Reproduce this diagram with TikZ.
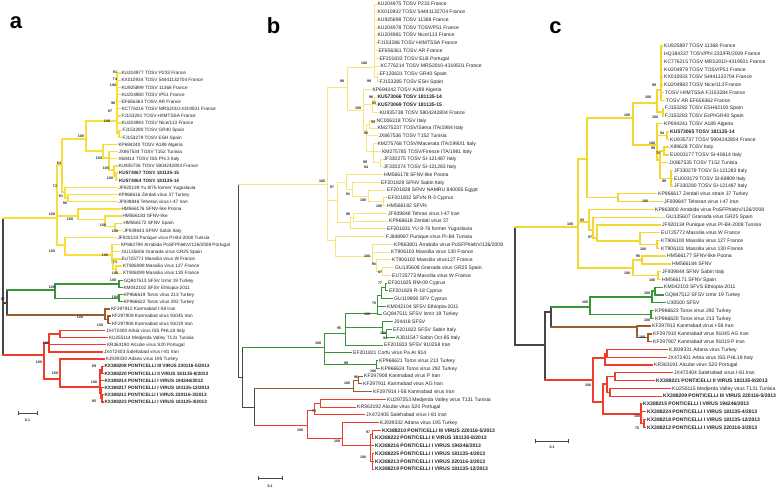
\documentclass[tikz,border=0pt]{standalone}
\usepackage{fontspec}
\newfontfamily\lsans{Liberation Sans}
\newcounter{lfc}\newcounter{bsc}
\definecolor{txt}{RGB}{35,35,35}
\definecolor{kcol}{RGB}{70,70,70}
\definecolor{yca}{RGB}{246,222,60}
\definecolor{ycb}{RGB}{248,228,120}
\definecolor{ycc}{RGB}{244,216,50}
\definecolor{gcol}{RGB}{55,150,55}
\definecolor{bcol}{RGB}{150,95,45}
\definecolor{rcol}{RGB}{238,60,45}
\newcommand{\tvert}[4]{\draw[#1] (#2,#3) -- (#2,#4);}
\newcommand{\thor}[4]{\draw[#1] (#2,#4) -- (#3,#4);}
\newcommand{\tleaf}[5]{\draw[#1] (#2,#4) -- (#3,#4);\stepcounter{lfc}\node[lbl] (lf\arabic{lfc}) at ({#3+1.3},{#4+1.75}) {#5};}
\newcommand{\tboot}[3]{\stepcounter{bsc}\node[bst] (bs\arabic{bsc}) at (#1,#2) {#3};}
\begin{document}
\begin{tikzpicture}[x=1pt,y=-1pt,line cap=rect,
  ka/.style={draw=kcol,line width=1.2pt}, ya/.style={draw=yca,line width=1.3pt},
  ga/.style={draw=gcol,line width=1.3pt}, ba/.style={draw=bcol,line width=1.3pt},
  ra/.style={draw=rcol,line width=1.3pt},
  kb/.style={draw=kcol,line width=1pt}, yb/.style={draw=ycb,line width=1pt},
  gb/.style={draw=gcol,line width=1pt}, bb/.style={draw=bcol,line width=1pt},
  rb/.style={draw=rcol,line width=1pt},
  kc/.style={draw=kcol,line width=1.2pt}, yc/.style={draw=ycc,line width=1.3pt},
  gc/.style={draw=gcol,line width=1.3pt}, bc/.style={draw=bcol,line width=1.3pt},
  rc/.style={draw=rcol,line width=1.3pt},
  bst/.style={inner sep=0,text=txt,font=\lsans\bfseries\fontsize{3.6}{4}\selectfont},
  plab/.style={inner sep=0,text=black,font=\lsans\bfseries\fontsize{22}{24}\selectfont},
  lbl/.style={anchor=base west,inner sep=0,text=txt,font=\lsans\fontsize{5.05}{5.6}\selectfont}]
\useasboundingbox (0,0) rectangle (778,491);
\fill[white] (0,0) rectangle (778,491);
% ================= PANEL A =================
\node[plab] (pa) at (16,23) {a};
\begin{scope}[lbl/.style={anchor=base west,inner sep=0,text=txt,font=\lsans\fontsize{4.7}{5.2}\selectfont}]
\tvert{ka}{3}{218}{355}
\thor{ya}{3}{57}{218}
\tvert{ya}{57}{165}{245}
\thor{ya}{57}{62}{165}
\tvert{ya}{62}{139}{192}
\thor{ya}{62}{86}{139}
\tvert{ya}{86}{121}{151}
\thor{ya}{86}{117}{121}
\tvert{ya}{117}{73}{133.8}
\tleaf{ya}{117}{120}{73}{KU204977 TOSV P233 France}
\tleaf{ya}{117}{120}{80.15}{KX010934 TOSV 54441132704 France}
\tleaf{ya}{117}{120}{87.3}{KU925899 TOSV 11368 France}
\tleaf{ya}{117}{120}{94.45}{KU204980 TOSV IP51 France}
\tleaf{ya}{117}{120}{101.6}{EF656363 TOSV AR France}
\tleaf{ya}{117}{120}{108.75}{KC776216 TOSV MRS2010-4319501 France}
\tleaf{ya}{117}{120}{115.9}{FJ153281 TOSV H/IMTSSA France}
\tleaf{ya}{117}{120}{123.05}{KU204983 TOSV Nice/113 France}
\thor{ya}{117}{119}{133.8}
\tvert{ya}{119}{130.2}{137.35}
\tleaf{ya}{119}{121}{130.2}{FJ153280 TOSV GR40 Spain}
\tleaf{ya}{119}{121}{137.35}{FJ153279 TOSV ESH Spain}
\thor{ya}{86}{103}{151}
\tvert{ya}{103}{144.5}{158}
\tleaf{ya}{103}{117}{144.5}{KP694240 TOSV A189 Algeria}
\thor{ya}{103}{109}{158}
\tvert{ya}{109}{151.65}{170}
\tleaf{ya}{109}{117}{151.65}{JX867534 TOSV T152 Tunisia}
\tleaf{ya}{109}{117}{158.8}{X68414 TOSV ISS Phl.3 Italy}
\thor{ya}{109}{114}{170}
\tvert{ya}{114}{165.95}{176.7}
\tleaf{ya}{114}{117}{165.95}{KU935736 TOSV 5904242804 France}
\thor{ya}{114}{116}{176.7}
\tvert{ya}{116}{173.1}{180.25}
\tleaf{ya}{116}{117.5}{173.1}{\textbf{KU573067 TOSV 181135-15}}
\tleaf{ya}{116}{117.5}{180.25}{\textbf{KU573064 TOSV 181135-14}}
\thor{ya}{62}{65}{192}
\tvert{ya}{65}{187.4}{198}
\tleaf{ya}{65}{117}{187.4}{JF920139 Yu 8/76 former Yugoslavia}
\thor{ya}{65}{68}{198}
\tvert{ya}{68}{194.55}{201.7}
\tleaf{ya}{68}{117}{194.55}{KP966616 Zerdali virus 37 Turkey}
\tleaf{ya}{68}{117}{201.7}{JF939846 Teheran virus I-47 Iran}
\thor{ya}{57}{78}{216}
\tvert{ya}{78}{208.85}{219.5}
\tleaf{ya}{78}{120}{208.85}{HM566176 SFNV-like Poona}
\thor{ya}{78}{105}{219.5}
\tvert{ya}{105}{216}{226.7}
\tleaf{ya}{105}{121}{216}{HM566183 SFNV-like}
\thor{ya}{105}{115}{226.7}
\tvert{ya}{115}{223.15}{230.3}
\tleaf{ya}{115}{122}{223.15}{HM566172 SFNV Spain}
\tleaf{ya}{115}{122}{230.3}{JF939843 SFNV Sabin Italy}
\thor{ya}{57}{65}{245}
\tvert{ya}{65}{237.45}{255}
\tleaf{ya}{65}{116}{237.45}{JF920133 Punique virus PI-B4-2008 Tunisia}
\thor{ya}{65}{112}{255}
\tvert{ya}{112}{244.6}{262.5}
\tleaf{ya}{112}{119.5}{244.6}{KP863799 Arrabida PoSFPhlebV/126/2008 Portugal}
\tleaf{ya}{112}{120}{251.75}{GU135606 Granada virus GR25 Spain}
\thor{ya}{112}{113}{262.5}
\tvert{ya}{113}{258.9}{269.6}
\tleaf{ya}{113}{120}{258.9}{EU725771 Massilia virus W France}
\thor{ya}{113}{116}{269.6}
\tvert{ya}{116}{266.05}{273.2}
\tleaf{ya}{116}{121.5}{266.05}{KT906098 Massilia virus 127 France}
\tleaf{ya}{116}{121.5}{273.2}{KT906099 Massilia virus 130 France}
% black / green / brown
\thor{ka}{3}{7}{303}
\tvert{ka}{7}{290}{315}
\thor{ga}{7}{55}{290}
\tvert{ga}{55}{284}{298.2}
\thor{ga}{55}{119}{284}
\tvert{ga}{119}{280.35}{287.5}
\tleaf{ga}{119}{122}{280.35}{GQ847513 SFSV Izmir 19 Turkey}
\tleaf{ga}{119}{122}{287.5}{KM042102 SFSV Ethiopia-2011}
\thor{ga}{55}{119}{298.2}
\tvert{ga}{119}{294.65}{301.8}
\tleaf{ga}{119}{122}{294.65}{KP966619 Toros virus 213 Turkey}
\tleaf{ga}{119}{122}{301.8}{KP966622 Toros virus 292 Turkey}
\thor{ba}{7}{105}{315}
\tvert{ba}{105}{308.95}{319.7}
\tleaf{ba}{105}{109.5}{308.95}{KF297912 Kanmabad I-58 Iran}
\thor{ba}{105}{108}{319.7}
\tvert{ba}{108}{316.1}{323.25}
\tleaf{ba}{108}{110.5}{316.1}{KF297909 Kanmabad virus 91045 Iran}
\tleaf{ba}{108}{110.5}{323.25}{KF297906 Kanmabad virus 91019 Iran}
% red
\thor{ra}{3}{44}{355}
\tvert{ra}{44}{343}{379}
\thor{ra}{44}{49}{343}
\tvert{ra}{49}{334}{351.85}
\thor{ra}{49}{60}{334}
\tvert{ra}{60}{330.4}{337.55}
\tleaf{ra}{60}{104.5}{330.4}{JX472400 Arbia virus ISS PHL18 Italy}
\tleaf{ra}{60}{107.5}{337.55}{KU255114 Medjerda Valley T131 Tunisia}
\tleaf{ra}{49}{105.5}{344.7}{KR363190 Alcube virus S20 Portugal}
\tleaf{ra}{49}{102.5}{351.85}{JX472403 Salehabad virus I-81 Iran}
\thor{ra}{44}{60}{379}
\tvert{ra}{60}{359}{387}
\tleaf{ra}{60}{104.5}{359}{KJ939330 Adana virus 195 Turkey}
\thor{ra}{60}{100}{387}
\tvert{ra}{100}{369.7}{393}
\thor{ra}{100}{102}{369.7}
\tvert{ra}{102}{366.15}{373.3}
\tleaf{ra}{102}{103}{366.15}{\textbf{KX388208 PONTICELLI III VIRUS 220116-5/2013}}
\tleaf{ra}{102}{103}{373.3}{\textbf{KX388220 PONTICELLI II VIRUS 181135-8/2013}}
\tleaf{ra}{100}{103}{380.45}{\textbf{KX388214 PONTICELLI I VIRUS 194246/2013}}
\thor{ra}{100}{101}{393}
\tvert{ra}{101}{387.6}{398.3}
\tleaf{ra}{101}{103}{387.6}{\textbf{KX388217 PONTICELLI I VIRUS 181135-12/2013}}
\thor{ra}{101}{102}{398.3}
\tvert{ra}{102}{394.75}{401.9}
\tleaf{ra}{102}{103}{394.75}{\textbf{KX388211 PONTICELLI I VIRUS 220116-3/2013}}
\tleaf{ra}{102}{103}{401.9}{\textbf{KX388223 PONTICELLI I VIRUS 181135-4/2013}}
\end{scope}
\tboot{115}{72}{91}\tboot{115}{79}{74}\tboot{113}{85}{100}\tboot{113}{103}{98}
\tboot{110}{111}{97}\tboot{107}{121}{100}\tboot{81}{136}{100}\tboot{59}{163}{84}
\tboot{99}{158}{100}\tboot{106}{168}{100}\tboot{110}{178}{100}\tboot{55}{186}{72}
\tboot{61}{196}{91}\tboot{65}{203}{96}\tboot{52}{214}{100}\tboot{70}{219}{100}
\tboot{103}{225}{100}\tboot{115}{231}{100}\tboot{52}{251}{100}\tboot{105}{255}{100}
\tboot{115}{262}{73}\tboot{115}{273}{100}\tboot{113}{280}{100}\tboot{52}{287}{100}
\tboot{115}{297}{100}\tboot{3}{299}{87}\tboot{80}{317}{100}\tboot{100}{325}{100}
\tboot{46}{343}{100}\tboot{39}{362}{100}\tboot{55}{373}{100}\tboot{94}{366}{99}
\tboot{94}{382}{100}\tboot{94}{401}{95}
\draw[kcol,line width=0.8pt,line cap=butt] (18,413) -- (37,413) (18,411) -- (18,415) (37,411) -- (37,415);
\node[bst] (sca) at (27.5,420) {0.1};
% ================= PANEL B =================
\node[plab] (pb) at (273.5,25.5) {b};
\tvert{kb}{238.7}{184}{377}
\thor{yb}{238.7}{327}{184}
\tvert{yb}{327}{87}{240}
\thor{yb}{327}{347}{87}
\tvert{yb}{347}{67}{110}
\thor{yb}{347}{374.5}{67}
\tvert{yb}{374.5}{4}{77.6}
\tleaf{yb}{374.5}{376}{4}{KU204975 TOSV P233 France}
\tleaf{yb}{374.5}{376}{11.75}{KX010932 TOSV 54441132704 France}
\tleaf{yb}{374.5}{376}{19.5}{KU925898 TOSV 11368 France}
\tleaf{yb}{374.5}{376}{27.25}{KU204978 TOSV TOSV/P51 France}
\tleaf{yb}{374.5}{376}{35}{KU204981 TOSV Nice/113 France}
\tleaf{yb}{374.5}{376}{42.75}{FJ153286 TOSV H/IMTSSA France}
\tleaf{yb}{374.5}{377}{50.5}{EF656361 TOSV AR France}
\tleaf{yb}{374.5}{378}{58.25}{EF201833 TOSV ELB Portugal}
\tleaf{yb}{374.5}{379}{66}{KC776214 TOSV MRS2010-4319501 France}
\thor{yb}{374.5}{377}{77.6}
\tvert{yb}{377}{73.75}{81.5}
\tleaf{yb}{377}{378}{73.75}{EF120631 TOSV GR40 Spain}
\tleaf{yb}{377}{378}{81.5}{FJ153285 TOSV ESH Spain}
\thor{yb}{347}{363}{110}
\tvert{yb}{363}{89.25}{130}
\tleaf{yb}{363}{371}{89.25}{KP694242 TOSV A189 Algeria}
\thor{yb}{363}{372}{104}
\tvert{yb}{372}{100.9}{112.5}
\thor{yb}{372}{374}{100.9}
\tvert{yb}{374}{97}{104.75}
\tleaf{yb}{374}{376}{97}{\textbf{KU573066 TOSV 181135-14}}
\tleaf{yb}{374}{376}{104.75}{\textbf{KU573069 TOSV 181135-15}}
\tleaf{yb}{372}{378}{112.5}{KU935738 TOSV 5904242804 France}
\thor{yb}{363}{366}{130}
\tvert{yb}{366}{124}{151.5}
\thor{yb}{366}{369}{124}
\tvert{yb}{369}{120.25}{128}
\tleaf{yb}{369}{375}{120.25}{NC006318 TOSV Italy}
\tleaf{yb}{369}{376}{128}{KM275237 TOSV/Siena ITA/1984 Italy}
\tleaf{yb}{366}{377}{135.75}{JX867536 TOSV T152 Tunisia}
\thor{yb}{366}{373}{151.5}
\tvert{yb}{373}{143.5}{162.9}
\tleaf{yb}{373}{376}{143.5}{KM275768 TOSV/Macerata ITA/1990/1 Italy}
\tleaf{yb}{373}{380.5}{151.25}{KM275785 TOSV/Firenze ITA/1981 Italy}
\thor{yb}{373}{380}{162.9}
\tvert{yb}{380}{159}{166.75}
\tleaf{yb}{380}{382}{159}{JF330275 TOSV SI-121487 Italy}
\tleaf{yb}{380}{382}{166.75}{JF330274 TOSV SI-121283 Italy}
\thor{yb}{327}{337}{200}
\tvert{yb}{337}{182}{222}
\thor{yb}{337}{346}{182}
\tvert{yb}{346}{174.5}{189}
\tleaf{yb}{346}{382.5}{174.5}{HM566178 SFNV-like Poona}
\thor{yb}{346}{352}{189}
\tvert{yb}{352}{182.25}{196}
\tleaf{yb}{352}{379.7}{182.25}{EF201829 SFNV Sabin Italy}
\thor{yb}{352}{368}{196}
\tvert{yb}{368}{190}{201.6}
\tleaf{yb}{368}{385.7}{190}{EF201828 SFNV NAMRU 840055 Egypt}
\thor{yb}{368}{383}{201.6}
\tvert{yb}{383}{197.75}{205.5}
\tleaf{yb}{383}{386.7}{197.75}{EF201832 SFVN R-3 Cyprus}
\tleaf{yb}{383}{385.7}{205.5}{HM566182 SFVN}
\thor{yb}{337}{350}{222}
\tvert{yb}{350}{217}{228.75}
\thor{yb}{350}{353}{217}
\tvert{yb}{353}{213.25}{221}
\tleaf{yb}{353}{386.7}{213.25}{JF939848 Tehran virus I-47 Iran}
\tleaf{yb}{353}{387.7}{221}{KP966618 Zerdali virus 37}
\tleaf{yb}{350}{385.7}{228.75}{EF201831 YU 8-76 former Yugoslavia}
\thor{yb}{327}{335}{240}
\tvert{yb}{335}{236.5}{256}
\tleaf{yb}{335}{384.7}{236.5}{FJ848987 Punique virus PI-B4 Tunisia}
\thor{yb}{335}{372}{256}
\tvert{yb}{372}{244.25}{263.6}
\tleaf{yb}{372}{392.7}{244.25}{KP863801 Arrabida virus PoSFPhlebV/126/2008}
\tleaf{yb}{372}{389.7}{252}{KT906103 Massilia virus 130 France}
\thor{yb}{372}{376}{263.6}
\tvert{yb}{376}{259.75}{271.4}
\tleaf{yb}{376}{390.7}{259.75}{KT906102 Massilia virus127 France}
\thor{yb}{376}{382}{271.4}
\tvert{yb}{382}{267.5}{275.25}
\tleaf{yb}{382}{393.7}{267.5}{GU135608 Granada virus GR25 Spain}
\tleaf{yb}{382}{390.7}{275.25}{EU725773 Massilia virus W France}
% green b
\thor{kb}{238.7}{242}{377}
\tvert{kb}{242}{347}{407}
\thor{gb}{242}{324}{347}
\tvert{gb}{324}{333}{364.4}
\thor{gb}{324}{345}{333}
\tvert{gb}{345}{313}{345}
\thor{gb}{345}{377}{313}
\tvert{gb}{377}{295}{314}
\thor{gb}{377}{381}{295}
\tvert{gb}{381}{287}{298.5}
\thor{gb}{381}{385}{287}
\tvert{gb}{385}{283}{290.75}
\tleaf{gb}{385}{386.7}{283}{EF201825 RM-09 Cyprus}
\tleaf{gb}{385}{387.7}{290.75}{EF201826 R-18 Cyprus}
\tleaf{gb}{381}{392.7}{298.5}{GU119908 SFV Cyprus}
\tleaf{gb}{377}{385.7}{306.25}{KM042104 SFSV Ethiopia-2011}
\tleaf{gb}{377}{381.7}{314}{GQ847511 SFSV Izmir 19 Turkey}
\thor{gb}{345}{382}{327}
\tvert{gb}{382}{321.75}{333.4}
\tleaf{gb}{382}{392.7}{321.75}{J04418 SFSV}
\thor{gb}{382}{386}{333.4}
\tvert{gb}{386}{329.5}{337.25}
\tleaf{gb}{386}{391.7}{329.5}{EF201822 SFSV Sabin Italy}
\tleaf{gb}{386}{394.7}{337.25}{AJ811547 Sabin Oct-85 Italy}
\tleaf{gb}{345}{382.7}{345}{EF201823 SFSV 910258 Iran}
\tleaf{gb}{324}{351.7}{352.75}{EF201821 Corfu virus Pa Ar 814}
\thor{gb}{324}{376}{364.4}
\tvert{gb}{376}{360.5}{368.25}
\tleaf{gb}{376}{377.7}{360.5}{KP966621 Toros virus 213 Turkey}
\tleaf{gb}{376}{379.7}{368.25}{KP966624 Toros virus 292 Turkey}
% brown b
\thor{kb}{242}{254}{407}
\tvert{kb}{254}{388}{425}
\thor{bb}{254}{353}{388}
\tvert{bb}{353}{380}{391.5}
\thor{bb}{353}{358}{380}
\tvert{bb}{358}{376}{383.75}
\tleaf{bb}{358}{362.7}{376}{KF297908 Kanmabad virus P Iran}
\tleaf{bb}{358}{361.7}{383.75}{KF297911 Kanmabad virus AG Iran}
\tleaf{bb}{353}{371.7}{391.5}{KF297914 I-58 Kanmabad virus Iran}
% red b
\thor{rb}{254}{307}{425}
\tvert{rb}{307}{410}{438}
\thor{rb}{307}{314}{410}
\tvert{rb}{314}{403}{414.75}
\thor{rb}{314}{320}{403}
\tvert{rb}{320}{399.25}{407}
\tleaf{rb}{320}{385.7}{399.25}{KU297253 Medjerda Valley virus T131 Tunisia}
\tleaf{rb}{320}{355.7}{407}{KR363192 Alcube virus S20 Portugal}
\tleaf{rb}{314}{364.7}{414.75}{JX472405 Salehabad virus I-81 Iran}
\thor{rb}{307}{342}{438}
\tvert{rb}{342}{422.5}{445}
\tleaf{rb}{342}{378.7}{422.5}{KJ939332 Adana virus 195 Turkey}
\thor{rb}{342}{370}{445}
\tvert{rb}{370}{434}{461.25}
\thor{rb}{370}{372}{434}
\tvert{rb}{372}{430.25}{438}
\tleaf{rb}{372}{380.7}{430.25}{\textbf{KX388210 PONTICELLI III VIRUS 220116-5/2013}}
\tleaf{rb}{372}{373.7}{438}{\textbf{KX388222 PONTICELLI II VIRUS 181135-8/2013}}
\tleaf{rb}{370}{373.7}{445.75}{\textbf{KX388216 PONTICELLI I VIRUS 194246/2013}}
\thor{rb}{370}{372}{461.25}
\tvert{rb}{372}{453.5}{469}
\tleaf{rb}{372}{373.7}{453.5}{\textbf{KX388225 PONTICELLI I VIRUS 181135-4/2013}}
\tleaf{rb}{372}{373.7}{461.25}{\textbf{KX388213 PONTICELLI I VIRUS 220116-3/2013}}
\tleaf{rb}{372}{373.7}{469}{\textbf{KX388219 PONTICELLI I VIRUS 181135-12/2013}}
\tboot{364}{63}{100}\tboot{369}{81}{99}\tboot{342}{81}{98}\tboot{371}{97}{96}
\tboot{374}{103}{93}\tboot{358}{108}{100}\tboot{373}{122}{99}\tboot{366}{133}{96}
\tboot{365}{162}{99}\tboot{366}{167}{84}\tboot{322}{181}{100}\tboot{332}{187}{97}
\tboot{348}{194}{91}\tboot{363}{200}{100}\tboot{379}{206}{100}\tboot{348}{214}{96}
\tboot{367}{256}{100}\tboot{374}{264}{91}\tboot{380}{272}{87}
\tboot{380}{283}{77}\tboot{374}{303}{76}\tboot{367}{314}{100}\tboot{339}{328}{95}
\tboot{383}{333}{100}\tboot{385}{338}{94}\tboot{318}{343}{100}\tboot{346}{363}{99}
\tboot{373}{371}{100}\tboot{356}{377}{96}\tboot{347}{383}{100}
\tboot{314}{411}{78}\tboot{300}{430}{100}\tboot{337}{441}{100}\tboot{368}{432}{97}
\tboot{363}{457}{100}
\draw[kcol,line width=0.8pt,line cap=butt] (258,478) -- (282,478) (258,476) -- (258,480) (282,476) -- (282,480);
\node[bst] (scb) at (270,486) {0.1};
% ================= PANEL C =================
\node[plab] (pc) at (555.5,27.5) {c};
\tvert{kc}{515}{227}{345}
\thor{yc}{515}{578}{227}
\tvert{yc}{578}{159}{268}
\thor{yc}{578}{587}{159}
\tvert{yc}{587}{118}{197.7}
\thor{yc}{587}{633}{118}
\tvert{yc}{633}{103}{145}
\thor{yc}{633}{657}{103}
\tvert{yc}{657}{90}{112}
\thor{yc}{657}{661}{90}
\tvert{yc}{661}{46}{100.5}
\tleaf{yc}{661}{662.7}{46}{KU925897 TOSV 11368 France}
\tleaf{yc}{661}{662.7}{53.8}{HQ184337 TOSV/PhI 233/FR/2009 France}
\tleaf{yc}{661}{662.7}{61.6}{KC776215 TOSV MRS2010-4319501 France}
\tleaf{yc}{661}{662.7}{69.3}{KU204979 TOSV TOSV/P51 France}
\tleaf{yc}{661}{662.7}{77.1}{KX010933 TOSV 54441132704 France}
\tleaf{yc}{661}{662.7}{84.9}{KU204982 TOSV Nice/113 France}
\tleaf{yc}{661}{663.7}{92.7}{TOSV H/IMTSSA FJ153284 France}
\tleaf{yc}{661}{664.7}{100.5}{TOSV AR EF656362 France}
\thor{yc}{657}{663}{112}
\tvert{yc}{663}{108.2}{116}
\tleaf{yc}{663}{663.7}{108.2}{FJ153282 TOSV ESH62100 Spain}
\tleaf{yc}{663}{663.7}{116}{FJ153283 TOSV EsPhGR40 Spain}
\thor{yc}{633}{657}{145}
\tvert{yc}{657}{123.8}{160}
\tleaf{yc}{657}{662.7}{123.8}{KP694241 TOSV A189 Algeria}
\thor{yc}{657}{667}{135.5}
\tvert{yc}{667}{131.6}{139.4}
\tleaf{yc}{667}{668.7}{131.6}{\textbf{KU573065 TOSV 181135-14}}
\tleaf{yc}{667}{668.7}{139.4}{KU935737 TOSV 5904242804 France}
\thor{yc}{657}{660}{160}
\tvert{yc}{660}{151}{178.3}
\thor{yc}{660}{664}{151}
\tvert{yc}{664}{147.1}{154.9}
\tleaf{yc}{664}{668.7}{147.1}{X89628 TOSV Italy}
\tleaf{yc}{664}{668.7}{154.9}{EU003177 TOSV SI-40614 Italy}
\tleaf{yc}{660}{667.7}{162.7}{JX867535 TOSV T152 Tunisia}
\thor{yc}{660}{671}{178.3}
\tvert{yc}{671}{170.5}{186}
\tleaf{yc}{671}{672.7}{170.5}{JF330279 TOSV SI-121283 Italy}
\tleaf{yc}{671}{672.7}{178.3}{EU003179 TOSV SI-68809 Italy}
\tleaf{yc}{671}{672.7}{186}{JF330280 TOSV SI-121487 Italy}
\thor{yc}{587}{618}{197.7}
\tvert{yc}{618}{193.8}{201.6}
\tleaf{yc}{618}{656.7}{193.8}{KP966617 Zerdali virus strain 37 Turkey}
\tleaf{yc}{618}{662.7}{201.6}{JF939847 Teheran virus I-47 Iran}
\thor{yc}{578}{589}{222}
\tvert{yc}{589}{209.4}{230}
\tleaf{yc}{589}{653.7}{209.4}{KP863800 Arrabida virus PoSFPhlebV/126/2008}
\thor{yc}{589}{593}{230}
\tvert{yc}{593}{217.2}{238}
\tleaf{yc}{593}{664.7}{217.2}{GU135607 Granada virus GR25 Spain}
\thor{yc}{593}{597}{238}
\tvert{yc}{597}{225}{241}
\tleaf{yc}{597}{660.7}{225}{JF920134 Punique virus PI-B4-2008 Tunisia}
\thor{yc}{597}{640}{241}
\tvert{yc}{640}{232.7}{244.4}
\tleaf{yc}{640}{659.7}{232.7}{EU725772 Massilia virus W France}
\thor{yc}{640}{657}{244.4}
\tvert{yc}{657}{240.5}{248.3}
\tleaf{yc}{657}{659.7}{240.5}{KT906100 Massilia virus 127 France}
\tleaf{yc}{657}{659.7}{248.3}{KT906101 Massilia virus 130 France}
\thor{yc}{578}{633}{268}
\tvert{yc}{633}{260}{275.5}
\thor{yc}{633}{642}{260}
\tvert{yc}{642}{256.1}{263.9}
\tleaf{yc}{642}{665.7}{256.1}{HM566177 SFNV-like Poona}
\tleaf{yc}{642}{670.7}{263.9}{HM566184 SFNV}
\thor{yc}{633}{658}{275.5}
\tvert{yc}{658}{271.6}{279.4}
\tleaf{yc}{658}{660.7}{271.6}{JF939844 SFNV Sabin Italy}
\tleaf{yc}{658}{660.7}{279.4}{HM566171 SFNV Spain}
% black / green / brown c
\thor{kc}{515}{545}{345}
\tvert{kc}{545}{312}{380}
\thor{kc}{545}{551}{312}
\tvert{kc}{551}{307}{327}
\thor{gc}{551}{590}{307}
\tvert{gc}{590}{297}{314.5}
\thor{gc}{590}{652}{297}
\tvert{gc}{652}{291}{302.8}
\thor{gc}{652}{655}{291}
\tvert{gc}{655}{287.2}{295}
\tleaf{gc}{655}{662.7}{287.2}{KM042103 SFVS Ethiopia-2011}
\tleaf{gc}{655}{663.7}{295}{GQ847512 SFSV Izmir 19 Turkey}
\tleaf{gc}{652}{665.7}{302.8}{U30500 SFSV}
\thor{gc}{590}{651}{314.5}
\tvert{gc}{651}{310.6}{318.3}
\tleaf{gc}{651}{653.7}{310.6}{KP966623 Toros virus 292 Turkey}
\tleaf{gc}{651}{653.7}{318.3}{KP966620 Toros virus 213 Turkey}
\thor{bc}{551}{637}{327}
\tvert{bc}{637}{326.1}{337.8}
\tleaf{bc}{637}{650.7}{326.1}{KF297913 Kanmabad virus I-58 Iran}
\thor{bc}{637}{648}{337.8}
\tvert{bc}{648}{333.9}{341.7}
\tleaf{bc}{648}{651.7}{333.9}{KF297910 Kanmabad virus 91045 AG Iran}
\tleaf{bc}{648}{651.7}{341.7}{KF297907 Kanmabad virus 91019 P Iran}
% red c
\thor{rc}{545}{593}{380}
\tvert{rc}{593}{358}{402}
\thor{rc}{593}{605}{358}
\tvert{rc}{605}{353.4}{365}
\thor{rc}{605}{607}{353.4}
\tvert{rc}{607}{349.5}{357.3}
\tleaf{rc}{607}{667.7}{349.5}{KJ939331 Adana virus Turkey}
\tleaf{rc}{607}{666.7}{357.3}{JX472401 Arbia virus ISS PHL18 Italy}
\tleaf{rc}{605}{652.7}{365}{KR363191 Alcube virus S20 Portugal}
\thor{rc}{593}{603}{402}
\tvert{rc}{603}{384}{414}
\thor{rc}{603}{607}{384}
\tvert{rc}{607}{376.7}{392.3}
\thor{rc}{607}{615}{376.7}
\tvert{rc}{615}{372.8}{380.6}
\tleaf{rc}{615}{672.7}{372.8}{JX472404 Salehabad virus I-81 Iran}
\tleaf{rc}{615}{654.7}{380.6}{\textbf{KX388221 PONTICELLI II VIRUS 181135-8/2013}}
\thor{rc}{607}{610}{392.3}
\tvert{rc}{610}{388.4}{396.2}
\tleaf{rc}{610}{670.7}{388.4}{KU255115 Medjerda Valley virus T131 Tunisia}
\tleaf{rc}{610}{661.7}{396.2}{\textbf{KX388209 PONTICELLI III VIRUS 220116-5/2013}}
\thor{rc}{603}{641}{414}
\tvert{rc}{641}{404}{423.4}
\tleaf{rc}{641}{641.7}{404}{\textbf{KX388215 PONTICELLI I VIRUS 194246/2013}}
\tleaf{rc}{641}{645.7}{411.8}{\textbf{KX388224 PONTICELLI I VIRUS 181135-4/2013}}
\thor{rc}{641}{644}{423.4}
\tvert{rc}{644}{419.5}{427.3}
\tleaf{rc}{644}{645.7}{419.5}{\textbf{KX388218 PONTICELLI I VIRUS 181135-12/2013}}
\tleaf{rc}{644}{645.7}{427.3}{\textbf{KX388212 PONTICELLI I VIRUS 220116-3/2013}}
\tboot{654}{85}{99}\tboot{648}{97}{100}\tboot{627}{115}{100}\tboot{655}{117}{100}
\tboot{662}{133}{94}\tboot{652}{143}{100}\tboot{653}{148}{99}\tboot{658}{153}{75}
\tboot{664}{181}{99}\tboot{645}{201}{100}\tboot{570}{224}{100}\tboot{582}{220}{83}
\tboot{590}{237}{97}\tboot{643}{249}{100}\tboot{638}{256}{95}\tboot{627}{273}{100}
\tboot{652}{280}{100}\tboot{647}{293}{100}\tboot{585}{302}{100}\tboot{647}{320}{100}
\tboot{642}{337}{100}\tboot{588}{385}{100}\tboot{637}{416}{100}\tboot{637}{428}{75}
\draw[kcol,line width=0.8pt,line cap=butt] (535,441) -- (568,441) (535,439) -- (535,443) (568,439) -- (568,443);
\node[bst] (scc) at (552,447) {0.1};
\end{tikzpicture}
\end{document}
